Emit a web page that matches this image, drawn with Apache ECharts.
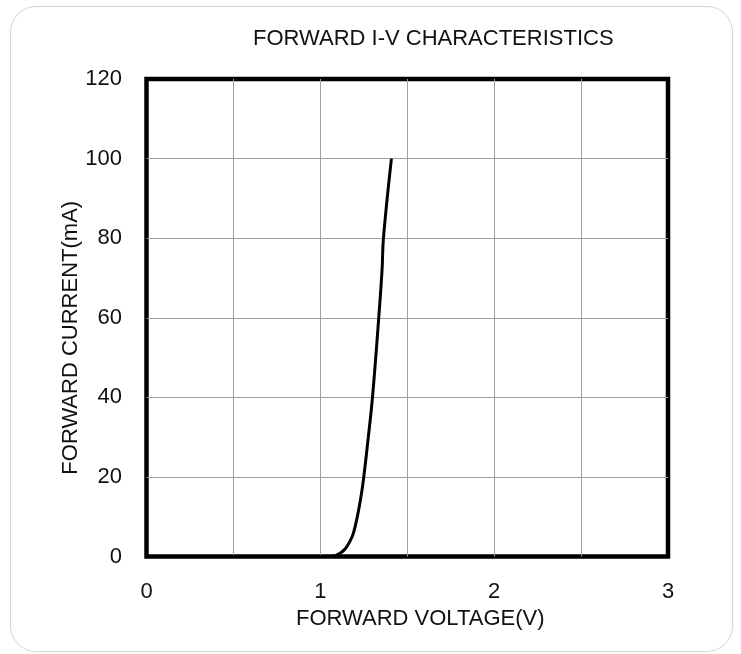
<!DOCTYPE html>
<html>
<head>
<meta charset="utf-8">
<script src="https://cdn.jsdelivr.net/npm/echarts@6/dist/echarts.min.js"></script>
<style>
  html, body { margin: 0; padding: 0; background: #fff; }
  #wrap { position: relative; width: 741px; height: 654px; overflow: hidden; }
  #chart { position: absolute; left: 0; top: 0; width: 741px; height: 654px; }
  #frame { position: absolute; left: 10px; top: 6px; width: 723px; height: 646px;
           border: 1px solid #d4d4d4; border-radius: 26px; pointer-events: none; box-sizing: border-box; }
</style>
</head>
<body>
<div id="wrap">
  <div id="chart"></div>
  <div id="frame"></div>
</div>
<script>
const titleText = 'FORWARD I-V CHARACTERISTICS';
const xName = 'FORWARD VOLTAGE(V)';
const yName = 'FORWARD CURRENT(mA)';
const voltage = [0, 1.05, 1.09, 1.12, 1.145, 1.17, 1.19, 1.215, 1.237, 1.25, 1.276, 1.30, 1.336, 1.355, 1.363, 1.409];
const current = [0, 0, 0.3, 1.0, 2.0, 3.8, 5.8, 10.5, 15.9, 20, 30, 40, 60, 72, 80, 100];
const xTicks = [0, 1, 2, 3];
const yTicks = [0, 20, 40, 60, 80, 100, 120];

const FONT = "'Liberation Sans', Arial, sans-serif";
const FS = 22;
const chart = echarts.init(document.getElementById('chart'), null, { renderer: 'canvas' });
chart.setOption({
  animation: false,
  backgroundColor: 'transparent',
  title: {
    text: titleText, left: 248, top: 23,
    textStyle: { fontFamily: FONT, fontSize: FS, fontWeight: 'normal', color: '#111' }
  },
  grid: {
    left: 146.5, right: 73, top: 79, bottom: 97.5,
    show: true, borderColor: '#000', borderWidth: 4.5, backgroundColor: 'transparent'
  },
  xAxis: {
    type: 'value', min: 0, max: 3, interval: 0.5,
    name: xName, nameLocation: 'middle', nameGap: 51, nameMoveOverlap: false,
    nameTextStyle: { fontFamily: FONT, fontSize: FS, color: '#111', padding: [0, 0, 0, 26] },
    axisLine: { show: false }, axisTick: { show: false },
    axisLabel: { fontFamily: FONT, fontSize: FS, color: '#111', margin: 24,
      formatter: v => xTicks.includes(v) ? String(v) : '' },
    splitLine: { show: true, showMinLine: false, showMaxLine: false, lineStyle: { color: '#a0a0a0', width: 1 } }
  },
  yAxis: {
    type: 'value', min: 0, max: 120, interval: 20,
    name: yName, nameLocation: 'middle', nameGap: 65, nameMoveOverlap: false,
    nameTextStyle: { fontFamily: FONT, fontSize: FS, color: '#111', padding: [0, 40, 0, 0] },
    axisLine: { show: false }, axisTick: { show: false },
    axisLabel: { fontFamily: FONT, fontSize: FS, color: '#111', margin: 24.5,
      formatter: v => yTicks.includes(v) ? String(v) : '' },
    splitLine: { show: true, showMinLine: false, showMaxLine: false, lineStyle: { color: '#a0a0a0', width: 1 } }
  },
  series: [{
    type: 'line', data: voltage.map((v, i) => [v, current[i]]),
    showSymbol: false, smooth: 0.4,
    lineStyle: { color: '#000', width: 3 }, z: 5
  }]
});
</script>
</body>
</html>
